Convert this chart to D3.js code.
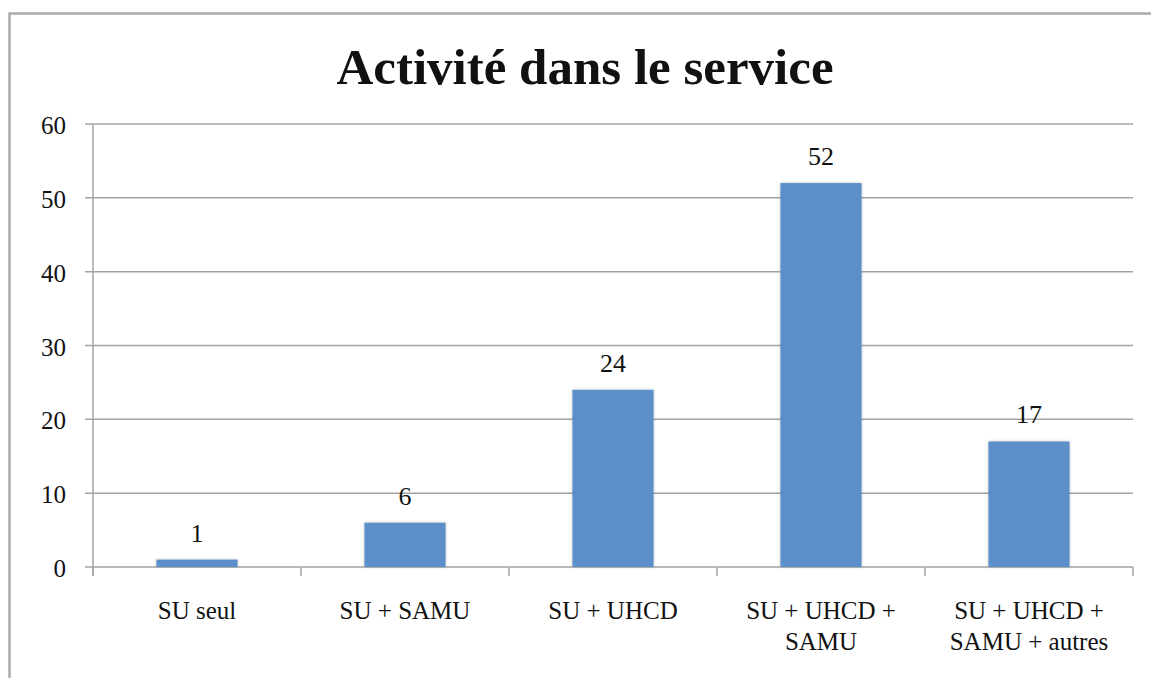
<!DOCTYPE html>
<html>
<head>
<meta charset="utf-8">
<script src="https://cdn.jsdelivr.net/npm/d3@7"></script>
<style>
  body { margin: 0; background: #fff; }
  text { font-family: "Liberation Serif", "DejaVu Serif", serif; fill: #111; }
</style>
</head>
<body>
<div class="chart"></div>
<script>
var categories = [["SU seul"], ["SU + SAMU"], ["SU + UHCD"], ["SU + UHCD +", "SAMU"], ["SU + UHCD +", "SAMU + autres"]];
var values = [1, 6, 24, 52, 17];
var yTicks = [0, 10, 20, 30, 40, 50, 60];
var title = "Activité dans le service";

var width = 1151, height = 678;
var margin = {top: 124, right: 18, bottom: 111, left: 93},
  plotWidth = width - margin.left - margin.right,
  plotHeight = height - margin.top - margin.bottom;

var svg = d3.select(".chart")
.append("svg")
  .attr("width", width)
  .attr("height", height);

// outer frame (only top and left edges visible in the picture)
svg.append("path")
  .attr("d", "M9.5," + height + "V13.5H" + width)
  .attr("fill", "none")
  .attr("stroke", "#ababab")
  .attr("stroke-width", 2.5);

svg.append("text")
  .attr("x", 585)
  .attr("y", 84)
  .attr("text-anchor", "middle")
  .style("font-size", "51px")
  .style("font-weight", "bold")
  .text(title);

var g = svg.append("g")
  .attr("transform", "translate(" + margin.left + "," + margin.top + ")");

var x = d3.scaleBand()
  .domain(d3.range(values.length))
  .range([0, plotWidth])
  .paddingInner(0.61)
  .paddingOuter(0.305);

var band = d3.scaleBand()
  .domain(d3.range(values.length))
  .range([0, plotWidth]);

var y = d3.scaleLinear()
  .domain([0, 60])
  .range([plotHeight, 0]);

// gridlines
g.selectAll(".grid")
  .data(yTicks)
  .enter().append("line")
  .attr("x1", -8)
  .attr("x2", plotWidth)
  .attr("y1", function(d) { return y(d); })
  .attr("y2", function(d) { return y(d); })
  .attr("stroke", "#a3a3a3")
  .attr("stroke-width", 1.5);

// y axis line
g.append("line")
  .attr("x1", 0).attr("x2", 0)
  .attr("y1", 0).attr("y2", plotHeight + 9)
  .attr("stroke", "#a3a3a3")
  .attr("stroke-width", 1.5);

// x category ticks
g.selectAll(".xtick")
  .data(d3.range(values.length + 1))
  .enter().append("line")
  .attr("x1", function(d) { return d * band.bandwidth(); })
  .attr("x2", function(d) { return d * band.bandwidth(); })
  .attr("y1", plotHeight)
  .attr("y2", plotHeight + 9)
  .attr("stroke", "#a3a3a3")
  .attr("stroke-width", 1.5);

g.selectAll(".ylab")
  .data(yTicks)
  .enter().append("text")
  .attr("x", -27)
  .attr("y", function(d) { return y(d) + 10; })
  .attr("text-anchor", "end")
  .style("font-size", "25px")
  .text(function(d) { return d; });

// soft shadow around bars
var defs = svg.append("defs");
var f = defs.append("filter").attr("id", "shadow")
  .attr("x", "-10%").attr("y", "-10%").attr("width", "120%").attr("height", "120%");
f.append("feDropShadow")
  .attr("dx", 0).attr("dy", 0)
  .attr("stdDeviation", 1.5)
  .attr("flood-color", "#000")
  .attr("flood-opacity", 0.25);

g.selectAll(".bar")
  .data(values)
  .enter().append("rect")
  .attr("x", function(d, i) { return x(i); })
  .attr("y", function(d) { return y(d); })
  .attr("width", x.bandwidth())
  .attr("height", function(d) { return plotHeight - y(d); })
  .attr("fill", "#5b8fc7")
  .attr("filter", "url(#shadow)");

g.selectAll(".val")
  .data(values)
  .enter().append("text")
  .attr("x", function(d, i) { return x(i) + x.bandwidth() / 2; })
  .attr("y", function(d) { return y(d) - 18; })
  .attr("text-anchor", "middle")
  .style("font-size", "26px")
  .text(function(d) { return d; });

var labels = g.selectAll(".cat")
  .data(categories)
  .enter().append("text")
  .attr("x", function(d, i) { return band(i) + band.bandwidth() / 2; })
  .attr("y", plotHeight + 52)
  .attr("text-anchor", "middle")
  .style("font-size", "25px");

labels.selectAll("tspan")
  .data(function(d) { return d; })
  .enter().append("tspan")
  .attr("x", function() { return d3.select(this.parentNode).attr("x"); })
  .attr("dy", function(d, i) { return i === 0 ? 0 : 31; })
  .text(function(d) { return d; });
</script>
</body>
</html>
